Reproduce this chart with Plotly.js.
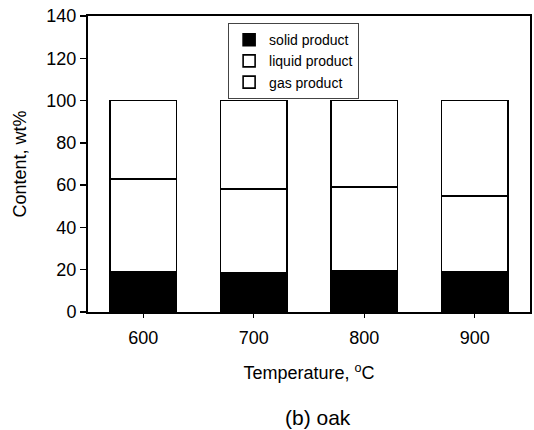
<!DOCTYPE html>
<html>
<head>
<meta charset="utf-8">
<script src="https://cdn.plot.ly/plotly-3.0.1.min.js"></script>
<style>html,body{margin:0;padding:0;background:#fff;}#chart{width:534px;height:430px;}</style>
</head>
<body>
<div id="chart"></div>
<script>
var temperatures = ["600", "700", "800", "900"];
var solidProduct = [19.0, 18.7, 19.5, 19.0];
var liquidProduct = [44.0, 39.4, 39.5, 35.9];
var gasProduct = [37.0, 41.9, 41.0, 45.1];
var yTicks = [0, 20, 40, 60, 80, 100, 120, 140];

var font = "Liberation Sans, Arial, sans-serif";
var outline = {color: "#000", width: 1.6};

var traces = [
  {type: "bar", name: "solid product", x: temperatures, y: solidProduct,
   marker: {color: "#000", line: outline}, width: 0.6},
  {type: "bar", name: "liquid product", x: temperatures, y: liquidProduct,
   marker: {color: "#fff", line: outline}, width: 0.6},
  {type: "bar", name: "gas product", x: temperatures, y: gasProduct,
   marker: {color: "#fff", line: outline}, width: 0.6}
];

var layout = {
  width: 534, height: 430,
  margin: {l: 88, r: 4, t: 16, b: 118},
  paper_bgcolor: "#fff", plot_bgcolor: "#fff",
  barmode: "stack",
  showlegend: true,
  font: {family: font, color: "#000", size: 18},
  xaxis: {
    type: "category", range: [-0.5, 3.5],
    showline: true, linecolor: "#000", linewidth: 2, mirror: true,
    ticks: "outside", ticklen: 4, tickcolor: "#000", tickwidth: 1,
    showgrid: false, zeroline: false,
    tickfont: {size: 18, family: font},
    ticklabelstandoff: 4,
    title: {text: "Temperature, <sup>o</sup>C", font: {size: 18, family: font}, standoff: 20}
  },
  yaxis: {
    range: [0, 140], tickvals: yTicks,
    showline: true, linecolor: "#000", linewidth: 2, mirror: true,
    ticks: "outside", ticklen: 6, tickcolor: "#000", tickwidth: 1.5,
    showgrid: false, zeroline: false,
    tickfont: {size: 18, family: font},
    title: {text: "Content, wt%", font: {size: 18, family: font}, standoff: 15}
  },
  legend: {
    x: 0.317, y: 0.976, xanchor: "left", yanchor: "top",
    bgcolor: "#fff", bordercolor: "#444", borderwidth: 1,
    traceorder: "normal",
    font: {size: 14, family: font},
    tracegroupgap: 0, itemwidth: 30
  },
  annotations: [
    {text: "(b) oak", xref: "paper", yref: "paper", x: 0.52, y: -0.355,
     xanchor: "center", yanchor: "middle", showarrow: false,
     font: {size: 21, family: font}}
  ]
};

Plotly.newPlot("chart", traces, layout, {displayModeBar: false, staticPlot: true});
</script>
</body>
</html>
